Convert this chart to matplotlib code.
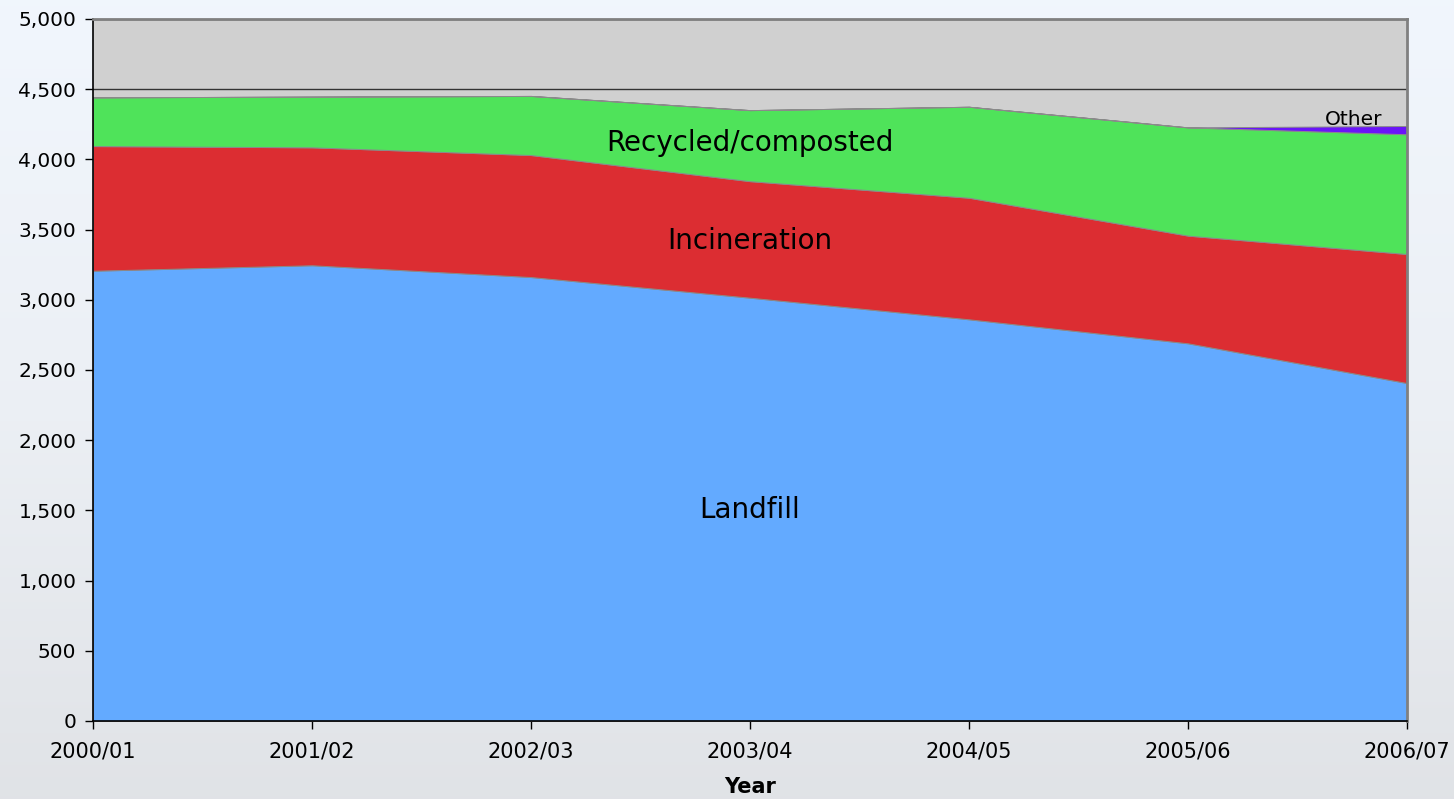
import numpy as np
import matplotlib
matplotlib.use("Agg")
import matplotlib.pyplot as plt
from matplotlib.ticker import FuncFormatter, MultipleLocator

plt.rcParams['font.family'] = ['DejaVu Sans']

# Municipal waste by management route (thousand tonnes)
years = ["2000/01", "2001/02", "2002/03", "2003/04", "2004/05", "2005/06", "2006/07"]
landfill = [3207, 3246, 3162, 3015, 2861, 2690, 2407]
incineration = [888, 840, 869, 830, 866, 767, 919]
recycled = [347, 361, 421, 506, 648, 771, 853]
other = [0, 0, 0, 0, 0, 0, 59]

series_names = ["Landfill", "Incineration", "Recycled/composted", "Other"]
series_colors = ["#63aaff", "#dc2d32", "#4fe35a", "#6a14f8"]

fig = plt.figure(figsize=(14.54, 7.99), dpi=100)

# soft backdrop behind the chart
bg = fig.add_axes([0, 0, 1, 1], zorder=-10)
bg.set_axis_off()
grad = np.linspace(0, 1, 256)[:, None]
top = np.array([0.945, 0.965, 0.992])
mid = np.array([0.925, 0.940, 0.960])
bot = np.array([0.880, 0.890, 0.905])
rows = np.where(grad < 0.5, top + (mid - top) * (grad / 0.5),
                mid + (bot - mid) * ((grad - 0.5) / 0.5))
img = np.repeat(rows[:, None, :], 4, axis=1).reshape(256, 4, 3)
bg.imshow(img, aspect='auto', extent=[0, 1, 0, 1], origin='upper')
bg.set_xlim(0, 1)
bg.set_ylim(0, 1)

ax = fig.add_axes([93 / 1454, 1 - 721 / 799, (1407 - 93) / 1454, (721 - 19) / 799])
ax.set_facecolor("#d0d0d0")

x = np.arange(len(years))
ax.stackplot(x, landfill, incineration, recycled, other,
             colors=series_colors, edgecolor="#8a8a8a", linewidth=0.7,
             labels=series_names, zorder=2)

ax.set_xlim(0, len(years) - 1)
ax.set_ylim(0, 5000)
ax.yaxis.set_major_locator(MultipleLocator(500))
ax.yaxis.set_major_formatter(FuncFormatter(lambda v, p: f"{int(v):,}"))
ax.set_xticks(x)
ax.set_xticklabels(years)

ax.grid(axis='y', color="#333333", linewidth=1.0, zorder=0)
ax.set_axisbelow(True)

for s in ["left", "bottom"]:
    ax.spines[s].set_color("#000000")
    ax.spines[s].set_linewidth(1.2)
for s in ["top", "right"]:
    ax.spines[s].set_color("#808080")
    ax.spines[s].set_linewidth(2.0)

ax.tick_params(axis='both', which='major', length=6,
               width=1.0, color="#000000", labelcolor="#000000")
ax.tick_params(axis='y', pad=6, labelsize=14.5)
ax.tick_params(axis='x', pad=9, labelsize=15)

# in-area labels
ax.text(3.0, 4117, "Recycled/composted", ha='center', va='center', fontsize=20)
ax.text(3.0, 3420, "Incineration", ha='center', va='center', fontsize=20)
ax.text(3.0, 1500, "Landfill", ha='center', va='center', fontsize=20)
ax.text(5.754, 4285, "Other", ha='center', va='center', fontsize=14.5)

ax.set_xlabel("Year", fontsize=15, fontweight='bold', labelpad=11)

fig.savefig("out.png", dpi=100)
